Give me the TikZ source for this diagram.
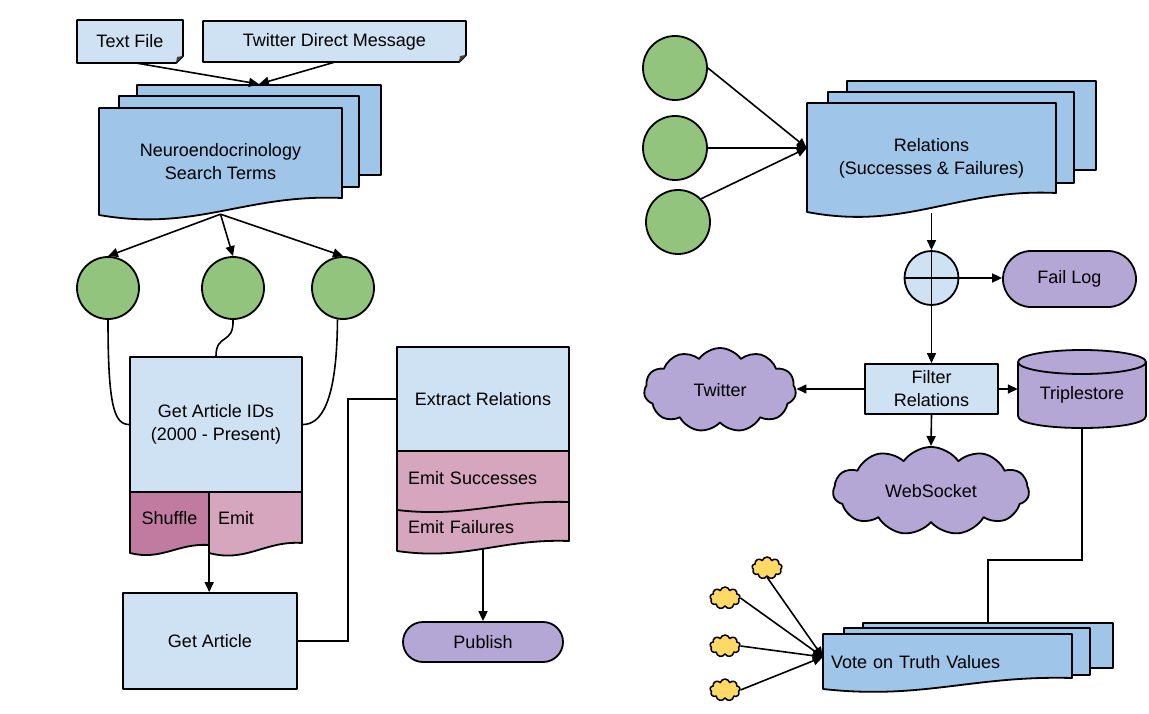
\documentclass[tikz,border=0pt]{standalone}
\usepackage{fontspec}
\setmainfont{Liberation Sans}
\usetikzlibrary{arrows.meta,shapes.symbols,shapes.misc,calc}
\definecolor{lblue}{HTML}{CFE2F3}
\definecolor{sblue}{HTML}{9FC5E8}
\definecolor{grn}{HTML}{93C47D}
\definecolor{pnk}{HTML}{D5A6BD}
\definecolor{dpnk}{HTML}{C27BA0}
\definecolor{purp}{HTML}{B4A7D6}
\definecolor{ylw}{HTML}{FFD966}
\newcommand{\wdoc}[6]{\draw[shp,fill=#6] (#1,#2) -- (#3,#2) -- (#3,{#4-#5}) .. controls ({#3-0.4*(#3-#1)},{#4-1.25*#5}) and ({#1+0.4*(#3-#1)},{#4+#5}) .. (#1,#4) -- cycle;}
\newcommand{\fdoc}[4]{\draw[shp,fill=lblue] (#1,#2) -- (#3,#2) -- (#3,{#4-7}) -- ({#3-7},#4) -- (#1,#4) -- cycle;
 \fill[black!75] ({#3-7},#4) -- ({#3-6},{#4-6}) -- (#3,{#4-7}) -- cycle;}
\tikzset{
 shp/.style={draw=black, line width=1.8pt, line join=round},
 txt/.style={font=\fontsize{18}{23}\selectfont, align=center, inner sep=0pt},
 box/.style={shp, fill=lblue, txt},
 circ/.style={shp, circle, fill=grn, inner sep=0pt},
 con/.style={line width=1.6pt},
 arr/.style={con, -{Triangle[length=10pt,width=9pt]}},
 cloudst/.style={shp, cloud, cloud puffs=11, cloud puff arc=110, fill=purp, txt, aspect=1.8},
 ycl/.style={shp, line width=1.5pt, cloud, cloud puffs=9, fill=ylw, minimum width=30, minimum height=22, inner sep=0pt},
 pg/.style={shp, fill=sblue, inner sep=0pt},
}
\begin{document}
\begin{tikzpicture}[x=1pt,y=-1pt]
\useasboundingbox (0,0) rectangle (1149,714);
% ---------- left top
\fdoc{77}{20}{183}{63}
\node[txt, minimum width=106, minimum height=43] (tf) at (130,41.5) {Text File};
\fdoc{203}{21}{466}{62}
\node[txt, minimum width=263, minimum height=41] (tdm) at (334.5,41.5) {Twitter Direct Message};
\node[pg, minimum width=244, minimum height=90] (nb) at (259,130) {};
\node[pg, minimum width=240, minimum height=91] (nm) at (239,141.5) {};
\wdoc{99}{108}{342}{215}{17}{sblue}
\node[txt, minimum width=243, minimum height=104] (neuro) at (220.5,162) {Neuroendocrinology\\Search Terms};
\draw[arr] ([xshift=7pt]tf.south) -- (nb.north);
\draw[arr] (tdm.south) -- (nb.north);
% circles
\node[circ, minimum size=62] (c1) at (108,288) {};
\node[circ, minimum size=62] (c2) at (233,288) {};
\node[circ, minimum size=62] (c3) at (343,288) {};
\draw[arr] (neuro.south) -- (c1.north);
\draw[arr] (neuro.south) -- (c2.north);
\draw[arr] (neuro.south) -- (c3.north);
% get article ids
\node[box, minimum width=172, minimum height=135] (gai) at (216,424.5) {Get Article IDs\\(2000 - Present)};
\draw[con] (c1.south) .. controls (108,405) and (114,424.5) .. (gai.west);
\draw[con] (c2.south) .. controls (234,345) and (216,333) .. (gai.north);
\draw[con] (c3.-100) .. controls (337,405) and (320,424.5) .. (gai.east);
\wdoc{130}{492}{209}{553}{8}{dpnk}
\wdoc{209}{492}{302}{553}{10}{pnk}
\node[txt, minimum width=79, minimum height=53] (shuf) at (169.5,518.5) {Shuffle};
\node[txt, text width=75, align=left, inner xsep=9pt, minimum height=53] (emit) at (255.5,518.5) {Emit};
\node[box, minimum width=174, minimum height=96] (ga) at (210,641) {Get Article};
\draw[arr] (shuf.south east) -- (shuf.south east |- ga.north);
% extract relations
\node[box, minimum width=172, minimum height=104] (er) at (483,399) {Extract Relations};
\draw[con] (ga.east) -- ++(50,0) |- (er.west);
\wdoc{397}{496}{569}{551}{10}{pnk}
\wdoc{397}{451}{569}{510}{8}{pnk}
\node[txt, text width=150, align=left, inner xsep=11pt, minimum height=42] (es) at (483,478) {Emit Successes};
\node[txt, text width=150, align=left, inner xsep=11pt, minimum height=42] (ef) at (483,527) {Emit Failures};
\node[shp, rounded rectangle, fill=purp, txt, minimum width=160, minimum height=40] (pub) at (483,642) {Publish};
\draw[arr] (ef.south) -- (pub.north);
% ---------- right
\node[circ, minimum size=64] (g1) at (675,68) {};
\node[circ, minimum size=64] (g2) at (675,148) {};
\node[circ, minimum size=64] (g3) at (678,222) {};
\node[pg, minimum width=249, minimum height=89] (rb) at (971.5,125.5) {};
\node[pg, minimum width=246, minimum height=91] (rm) at (951,137.5) {};
\wdoc{807}{103}{1056}{212}{19}{sblue}
\node[txt, minimum width=249, minimum height=110] (rel) at (931.5,158) {Relations\\(Successes \& Failures)};
\draw[arr] (g1.east) -- ([yshift=10pt]rel.west);
\draw[arr] (g2.east) -- ([yshift=10pt]rel.west);
\draw[arr] (g3.north east) -- ([yshift=10pt]rel.west);
\node[shp, circle, fill=lblue, minimum size=54, inner sep=0pt] (cp) at (931.5,278) {};
\draw[con] (cp.north) -- (cp.south) (cp.west) -- (cp.east);
\draw[arr] (rel.south) -- (cp.north);
\node[shp, rounded rectangle, fill=purp, txt, minimum width=133, minimum height=56] (fl) at (1069.5,279) {Fail Log};
\draw[arr] (cp.east) -- (cp.east -| fl.west);
\node[box, minimum width=133, minimum height=50] (fr) at (931.5,389) {Filter\\Relations};
\draw[arr] (cp.south) -- (fr.north);
\node[cloudst, minimum width=152, minimum height=84] (tw) at (720,390) {Twitter};
\draw[arr] (fr.west) -- (fr.west -| tw.east);
% triplestore
\fill[purp] (1018,362) rectangle (1146,416);
\fill[purp] (1018,416) .. controls (1018,432) and (1146,432) .. (1146,416) -- cycle;
\draw[shp] (1018,362) -- (1018,416) .. controls (1018,432) and (1146,432) .. (1146,416) -- (1146,362);
\draw[shp, fill=purp] (1082,362) ellipse (64 and 12);
\node[txt, minimum width=128, minimum height=66] (trip) at (1082,395) {Triplestore};
\draw[arr] (fr.east) -- (fr.east -| trip.west);
\node[cloudst, minimum width=196, minimum height=78] (ws) at (931,491) {WebSocket};
\draw[arr] (fr.south) -- (ws.north);
% vote
\node[pg, minimum width=250, minimum height=45] (vb) at (988,645.5) {};
\node[pg, minimum width=246, minimum height=47] (vm) at (967,651.5) {};
\wdoc{823}{634}{1072}{689}{11}{sblue}
\node[txt, text width=233, align=left, inner xsep=8pt, minimum height=44] (vote) at (947.5,662) {Vote on Truth Values};
\draw[con] (trip.south) -- ++(0,132) -| (vb.north);
\node[ycl] (y1) at (767,568) {};
\node[ycl] (y2) at (725,598) {};
\node[ycl] (y3) at (725,646) {};
\node[ycl] (y4) at (725,690) {};
\draw[arr] (y1.south) -- ([yshift=5pt]vote.west);
\draw[arr] (y2.east) -- ([yshift=5pt]vote.west);
\draw[arr] (y3.east) -- ([yshift=5pt]vote.west);
\draw[arr] (y4.east) -- ([yshift=5pt]vote.west);
\end{tikzpicture}
\end{document}
